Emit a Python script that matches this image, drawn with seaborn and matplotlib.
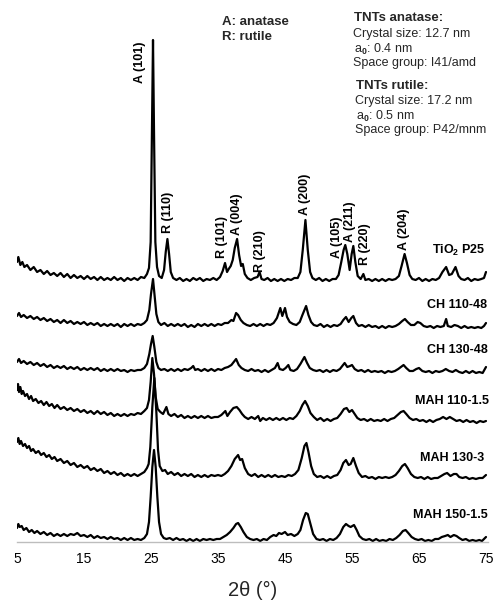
import numpy as np
import pandas as pd
import matplotlib
matplotlib.use("Agg")
import matplotlib.pyplot as plt
import seaborn as sns

# ---- data: (2theta, stacked intensity in arbitrary units) ----
P25 = [(5.0, 280), (5.2, 285), (5.5, 277), (5.8, 280), (6.1, 275), (6.5, 277), (7.0, 272), (7.5, 275),
       (8.0, 270), (8.5, 272), (9.0, 268), (9.5, 271), (10.0, 267), (10.5, 269), (11.0, 266), (11.5, 269),
       (12.0, 265), (12.5, 268), (13.0, 264), (13.5, 267), (14.0, 264), (14.5, 266), (15.0, 263), (15.5, 266),
       (16.0, 263), (16.5, 265), (17.0, 262), (17.5, 265), (18.0, 262), (18.5, 264), (19.0, 262), (19.5, 265),
       (20.0, 262), (20.5, 264), (21.0, 261), (21.5, 264), (22.0, 262), (22.5, 264), (23.0, 262), (23.5, 265),
       (24.0, 264), (24.4, 268), (24.7, 274), (24.95, 300), (25.15, 420), (25.3, 502), (25.45, 410),
       (25.65, 300), (25.9, 275), (26.2, 266), (26.6, 264), (26.95, 272), (27.2, 290), (27.45, 303),
       (27.7, 288), (27.95, 270), (28.3, 264), (28.8, 262), (29.3, 264), (29.8, 261), (30.3, 263), (30.8, 261),
       (31.3, 264), (31.8, 262), (32.3, 264), (32.8, 261), (33.3, 263), (33.8, 262), (34.3, 264), (34.8, 262),
       (35.3, 265), (35.7, 271), (36.05, 279), (36.35, 270), (36.6, 273), (36.9, 276), (37.2, 282), (37.5, 294),
       (37.85, 303), (38.15, 287), (38.45, 276), (38.7, 278), (39.0, 268), (39.4, 264), (39.9, 262), (40.4, 264),
       (40.9, 265), (41.2, 270), (41.5, 263), (41.9, 262), (42.4, 264), (42.9, 261), (43.4, 263), (43.9, 261),
       (44.4, 263), (44.9, 261), (45.4, 263), (45.9, 262), (46.4, 264), (46.9, 264), (47.3, 270), (47.65, 292),
       (48.05, 322), (48.4, 292), (48.75, 270), (49.1, 264), (49.6, 262), (50.1, 264), (50.6, 261), (51.1, 263),
       (51.6, 261), (52.1, 263), (52.6, 263), (53.0, 267), (53.4, 280), (53.75, 292), (54.0, 297), (54.3, 288),
       (54.65, 272), (54.95, 288), (55.2, 296), (55.5, 280), (55.85, 266), (56.3, 263), (56.7, 268), (57.0, 262),
       (57.5, 263), (58.0, 261), (58.5, 263), (59.0, 261), (59.5, 263), (60.0, 261), (60.5, 263), (61.0, 262),
       (61.5, 263), (62.0, 266), (62.4, 276), (62.85, 288), (63.2, 279), (63.6, 267), (64.0, 263), (64.5, 262),
       (65.0, 264), (65.5, 261), (66.0, 263), (66.5, 261), (67.0, 263), (67.5, 262), (68.0, 264), (68.5, 270),
       (69.05, 275), (69.5, 267), (69.9, 268), (70.45, 275), (70.9, 266), (71.3, 263), (71.8, 262), (72.3, 264),
       (72.8, 261), (73.3, 263), (73.8, 262), (74.3, 263), (74.7, 264), (75.0, 270)]

CH110 = [(5.0, 226), (5.3, 229), (5.6, 225), (6.0, 227), (6.5, 224), (7.0, 226), (7.5, 223), (8.0, 225),
         (8.5, 222), (9.0, 224), (9.5, 221), (10.0, 223), (10.5, 220), (11.0, 222), (11.5, 219), (12.0, 222),
         (12.5, 219), (13.0, 221), (13.5, 218), (14.0, 220), (14.5, 218), (15.0, 220), (15.5, 217), (16.0, 219),
         (16.5, 217), (17.0, 219), (17.5, 216), (18.0, 218), (18.5, 216), (19.0, 218), (19.5, 216), (20.0, 218),
         (20.5, 215), (21.0, 218), (21.5, 216), (22.0, 218), (22.5, 216), (23.0, 218), (23.5, 217), (24.0, 219),
         (24.4, 222), (24.75, 232), (25.0, 248), (25.3, 263), (25.55, 245), (25.8, 228), (26.1, 220), (26.5, 217),
         (27.0, 219), (27.5, 216), (28.0, 218), (28.5, 216), (29.0, 218), (29.5, 216), (30.0, 218), (30.5, 215),
         (31.0, 217), (31.5, 215), (32.0, 218), (32.5, 216), (33.0, 218), (33.5, 216), (34.0, 218), (34.5, 216),
         (35.0, 218), (35.5, 217), (36.0, 219), (36.5, 219), (37.0, 222), (37.3, 221), (37.7, 229), (38.0, 227),
         (38.4, 222), (38.8, 219), (39.3, 217), (39.8, 216), (40.3, 218), (40.8, 216), (41.3, 218), (41.8, 216),
         (42.3, 218), (42.8, 217), (43.3, 219), (43.8, 224), (44.3, 234), (44.6, 226), (45.0, 234), (45.3, 225),
         (45.7, 220), (46.2, 218), (46.7, 217), (47.2, 220), (47.6, 227), (48.15, 236), (48.5, 227), (48.9, 220),
         (49.3, 217), (49.8, 216), (50.3, 218), (50.8, 215), (51.3, 217), (51.8, 215), (52.3, 217), (52.8, 216),
         (53.3, 218), (53.7, 222), (54.1, 225), (54.5, 220), (54.9, 224), (55.2, 226), (55.6, 219), (56.0, 216),
         (56.5, 217), (57.0, 215), (57.5, 217), (58.0, 215), (58.5, 216), (59.0, 214), (59.5, 216), (60.0, 214),
         (60.5, 216), (61.0, 215), (61.5, 216), (62.0, 218), (62.5, 221), (62.9, 223), (63.3, 220), (63.8, 217),
         (64.3, 217), (64.8, 220), (65.2, 219), (65.7, 216), (66.2, 215), (66.7, 216), (67.2, 214), (67.7, 216),
         (68.2, 215), (68.7, 216), (69.05, 223), (69.3, 216), (69.8, 215), (70.3, 217), (70.8, 216), (71.3, 214),
         (71.8, 216), (72.3, 214), (72.8, 215), (73.3, 214), (73.8, 215), (74.3, 214), (74.7, 216), (75.0, 219)]

CH130 = [(5.0, 180), (5.3, 183), (5.6, 179), (6.0, 181), (6.5, 178), (7.0, 180), (7.5, 177), (8.0, 179),
         (8.5, 176), (9.0, 178), (9.5, 175), (10.0, 177), (10.5, 174), (11.0, 176), (11.5, 174), (12.0, 176),
         (12.5, 173), (13.0, 175), (13.5, 173), (14.0, 175), (14.5, 172), (15.0, 174), (15.5, 172), (16.0, 174),
         (16.5, 172), (17.0, 174), (17.5, 171), (18.0, 173), (18.5, 171), (19.0, 173), (19.5, 171), (20.0, 173),
         (20.5, 171), (21.0, 172), (21.5, 170), (22.0, 172), (22.5, 171), (23.0, 172), (23.5, 172), (24.0, 174),
         (24.4, 178), (24.75, 188), (25.0, 198), (25.25, 206), (25.5, 195), (25.8, 180), (26.1, 174), (26.5, 172),
         (27.0, 173), (27.5, 171), (28.0, 173), (28.5, 171), (29.0, 173), (29.5, 171), (30.0, 173), (30.5, 172),
         (31.0, 174), (31.3, 176), (31.6, 172), (32.0, 173), (32.5, 171), (33.0, 173), (33.5, 171), (34.0, 173),
         (34.5, 171), (35.0, 173), (35.5, 172), (36.0, 174), (36.5, 175), (37.0, 177), (37.7, 183), (38.1, 177),
         (38.5, 174), (39.0, 172), (39.5, 171), (40.0, 173), (40.5, 171), (41.0, 172), (41.5, 170), (42.0, 172),
         (42.5, 170), (43.0, 172), (43.5, 174), (43.9, 179), (44.2, 173), (44.7, 172), (45.1, 174), (45.5, 177),
         (45.8, 172), (46.3, 171), (46.8, 173), (47.3, 178), (47.9, 185), (48.3, 179), (48.7, 174), (49.2, 172),
         (49.7, 171), (50.2, 172), (50.7, 170), (51.2, 172), (51.7, 170), (52.2, 172), (52.7, 171), (53.2, 173),
         (53.9, 179), (54.3, 175), (54.7, 176), (55.0, 177), (55.4, 173), (55.9, 171), (56.4, 172), (56.9, 170),
         (57.4, 172), (57.9, 170), (58.4, 171), (58.9, 170), (59.4, 171), (59.9, 169), (60.4, 171), (60.9, 170),
         (61.4, 171), (61.9, 173), (62.3, 175), (62.7, 177), (63.1, 174), (63.6, 171), (64.1, 171), (64.6, 173),
         (65.0, 174), (65.5, 171), (66.0, 170), (66.5, 171), (67.0, 169), (67.5, 171), (68.0, 170), (68.5, 171),
         (69.0, 173), (69.5, 171), (70.0, 170), (70.5, 172), (71.0, 170), (71.5, 169), (72.0, 171), (72.5, 169),
         (73.0, 171), (73.5, 169), (74.0, 170), (74.5, 169), (75.0, 175)]

MAH110 = [(5.0, 152), (5.15, 158), (5.3, 150), (5.5, 155), (5.7, 148), (5.9, 151), (6.2, 146), (6.5, 148),
          (6.8, 143), (7.1, 146), (7.4, 141), (7.8, 143), (8.2, 139), (8.6, 141), (9.0, 137), (9.4, 140),
          (9.8, 136), (10.2, 138), (10.6, 134), (11.0, 137), (11.5, 133), (12.0, 135), (12.5, 132), (13.0, 134),
          (13.5, 131), (14.0, 133), (14.5, 130), (15.0, 132), (15.5, 129), (16.0, 131), (16.5, 128), (17.0, 131),
          (17.5, 128), (18.0, 130), (18.5, 127), (19.0, 129), (19.5, 126), (20.0, 128), (20.5, 126), (21.0, 128),
          (21.5, 126), (22.0, 128), (22.5, 127), (23.0, 129), (23.5, 128), (24.0, 131), (24.4, 134), (24.7, 142),
          (24.95, 160), (25.2, 184), (25.45, 168), (25.7, 145), (26.0, 133), (26.4, 130), (26.8, 128), (27.3, 135),
          (27.6, 128), (28.0, 126), (28.5, 128), (29.0, 125), (29.5, 127), (30.0, 124), (30.5, 126), (31.0, 124),
          (31.5, 126), (32.0, 124), (32.5, 126), (33.0, 124), (33.5, 126), (34.0, 124), (34.5, 125), (35.0, 125),
          (35.5, 127), (36.1, 131), (36.4, 126), (36.8, 130), (37.3, 134), (37.8, 135), (38.2, 132), (38.6, 128),
          (39.0, 125), (39.5, 123), (40.0, 125), (40.5, 123), (41.0, 126), (41.3, 121), (41.7, 124), (42.2, 122),
          (42.7, 124), (43.2, 122), (43.7, 124), (44.2, 122), (44.7, 124), (45.2, 122), (45.7, 124), (46.2, 123),
          (46.7, 126), (47.2, 131), (47.6, 137), (48.0, 141), (48.4, 136), (48.8, 129), (49.3, 125), (49.8, 122),
          (50.3, 124), (50.8, 121), (51.3, 123), (51.8, 121), (52.3, 123), (52.8, 124), (53.3, 128), (53.8, 133),
          (54.2, 134), (54.6, 130), (55.0, 132), (55.4, 128), (55.8, 124), (56.3, 122), (56.8, 123), (57.3, 121),
          (57.8, 123), (58.3, 121), (58.8, 122), (59.3, 121), (59.8, 123), (60.3, 121), (60.8, 123), (61.3, 124),
          (61.8, 127), (62.3, 130), (62.7, 131), (63.1, 128), (63.6, 124), (64.1, 122), (64.6, 123), (65.1, 121),
          (65.6, 122), (66.1, 120), (66.6, 122), (67.1, 120), (67.6, 122), (68.1, 123), (68.6, 125), (69.1, 123),
          (69.6, 125), (70.1, 123), (70.6, 121), (71.1, 122), (71.6, 120), (72.1, 122), (72.6, 120), (73.1, 121),
          (73.6, 119), (74.1, 121), (74.6, 120), (75.0, 121)]

MAH130 = [(5.0, 100), (5.2, 104), (5.4, 98), (5.6, 101), (5.9, 96), (6.2, 98), (6.5, 94), (6.8, 96),
          (7.1, 91), (7.4, 93), (7.8, 89), (8.2, 91), (8.6, 87), (9.0, 89), (9.4, 85), (9.8, 87), (10.2, 83),
          (10.6, 85), (11.0, 81), (11.5, 83), (12.0, 79), (12.5, 81), (13.0, 77), (13.5, 79), (14.0, 75),
          (14.5, 77), (15.0, 74), (15.5, 76), (16.0, 72), (16.5, 74), (17.0, 71), (17.5, 73), (18.0, 69),
          (18.5, 71), (19.0, 68), (19.5, 70), (20.0, 67), (20.5, 69), (21.0, 66), (21.5, 68), (22.0, 66),
          (22.5, 68), (23.0, 66), (23.5, 68), (24.0, 70), (24.4, 74), (24.65, 78), (24.9, 95), (25.2, 135),
          (25.5, 164), (25.8, 130), (26.05, 92), (26.3, 76), (26.7, 71), (27.1, 72), (27.5, 68), (28.0, 70),
          (28.5, 67), (29.0, 69), (29.5, 66), (30.0, 68), (30.5, 66), (31.0, 68), (31.5, 65), (32.0, 67),
          (32.5, 65), (33.0, 67), (33.5, 65), (34.0, 67), (34.5, 66), (35.0, 67), (35.5, 66), (36.0, 68),
          (36.5, 71), (37.0, 76), (37.5, 83), (38.0, 87), (38.3, 82), (38.6, 83), (39.0, 74), (39.5, 68),
          (40.0, 66), (40.5, 68), (41.0, 65), (41.5, 67), (42.0, 65), (42.5, 67), (43.0, 65), (43.5, 67),
          (44.0, 65), (44.5, 66), (45.0, 65), (45.5, 67), (46.0, 66), (46.5, 68), (47.0, 72), (47.5, 84),
          (47.9, 96), (48.2, 99), (48.5, 90), (48.9, 76), (49.3, 68), (49.8, 65), (50.3, 66), (50.8, 64),
          (51.3, 66), (51.8, 64), (52.3, 66), (52.8, 67), (53.3, 72), (53.7, 79), (54.1, 82), (54.5, 77),
          (54.8, 78), (55.2, 84), (55.6, 76), (56.0, 69), (56.5, 65), (57.0, 66), (57.5, 64), (58.0, 65),
          (58.5, 63), (59.0, 65), (59.5, 64), (60.0, 65), (60.5, 64), (61.0, 65), (61.5, 67), (62.0, 71),
          (62.5, 76), (62.9, 78), (63.3, 74), (63.8, 68), (64.3, 65), (64.8, 64), (65.3, 65), (65.8, 63),
          (66.3, 65), (66.8, 63), (67.3, 64), (67.8, 64), (68.3, 66), (68.8, 68), (69.2, 69), (69.7, 66),
          (70.2, 68), (70.6, 68), (71.0, 65), (71.5, 64), (72.0, 65), (72.5, 63), (73.0, 64), (73.5, 63),
          (74.0, 64), (74.5, 64), (75.0, 67)]

MAH150 = [(5.0, 14), (5.2, 18), (5.4, 15), (5.7, 16), (6.0, 12), (6.4, 14), (6.8, 10), (7.2, 12), (7.6, 9),
          (8.0, 11), (8.5, 8), (9.0, 10), (9.5, 7), (10.0, 9), (10.5, 6), (11.0, 8), (11.5, 6), (12.0, 8),
          (12.5, 6), (13.0, 8), (13.5, 7), (14.0, 9), (14.5, 6), (15.0, 7), (15.5, 5), (16.0, 7), (16.5, 4),
          (17.0, 6), (17.5, 4), (18.0, 5), (18.5, 3), (19.0, 5), (19.5, 3), (20.0, 4), (20.5, 2), (21.0, 4),
          (21.5, 2), (22.0, 4), (22.5, 2), (23.0, 3), (23.5, 2), (24.0, 4), (24.4, 8), (24.7, 20), (24.95, 45),
          (25.2, 75), (25.45, 92), (25.7, 75), (25.95, 45), (26.2, 20), (26.5, 8), (26.9, 4), (27.3, 3),
          (27.8, 4), (28.3, 2), (28.8, 4), (29.3, 2), (29.8, 3), (30.3, 1), (30.8, 3), (31.3, 1), (31.8, 3),
          (32.3, 1), (32.8, 3), (33.3, 2), (33.8, 3), (34.3, 2), (34.8, 3), (35.3, 3), (35.8, 5), (36.3, 7),
          (36.8, 10), (37.3, 14), (37.7, 18), (38.0, 19), (38.4, 15), (38.8, 10), (39.3, 5), (39.8, 3),
          (40.3, 2), (40.8, 3), (41.3, 1), (41.8, 3), (42.3, 2), (42.8, 5), (43.3, 7), (43.7, 6), (44.1, 9),
          (44.5, 8), (45.0, 10), (45.4, 7), (45.9, 8), (46.4, 6), (46.9, 8), (47.3, 12), (47.7, 22), (48.1, 29),
          (48.4, 28), (48.8, 18), (49.2, 8), (49.7, 3), (50.2, 2), (50.7, 3), (51.2, 1), (51.7, 3), (52.2, 2),
          (52.7, 4), (53.2, 8), (53.7, 15), (54.1, 18), (54.5, 16), (54.8, 15), (55.3, 17), (55.7, 12),
          (56.1, 6), (56.6, 3), (57.1, 2), (57.6, 3), (58.1, 1), (58.6, 3), (59.1, 1), (59.6, 2), (60.1, 1),
          (60.6, 3), (61.1, 2), (61.6, 4), (62.1, 7), (62.6, 11), (63.0, 12), (63.4, 9), (63.9, 5), (64.4, 3),
          (64.9, 2), (65.4, 3), (65.9, 1), (66.4, 2), (66.9, 1), (67.4, 3), (67.9, 3), (68.4, 5), (68.9, 6),
          (69.3, 7), (69.7, 5), (70.2, 7), (70.6, 6), (71.0, 4), (71.5, 2), (72.0, 3), (72.5, 1), (73.0, 2),
          (73.5, 1), (74.0, 2), (74.4, 1), (74.7, 3), (75.0, 5)]

series = {"P25": P25, "CH110": CH110, "CH130": CH130,
          "MAH110": MAH110, "MAH130": MAH130, "MAH150": MAH150}

series_labels = ["TiO$_\\mathbf{2}$ P25", "CH 110-48", "CH 130-48",
                 "MAH 110-1.5", "MAH 130-3", "MAH 150-1.5"]
series_label_pos = [(75.0, 292), (75.1, 237), (75.2, 192), (75.45, 141), (74.7, 84), (75.3, 27)]

peak_labels = ["A (101)", "R (110)", "R (101)", "A (004)", "R (210)",
               "A (200)", "A (105)", "A (211)", "R (220)", "A (204)"]
peak_label_pos = [(23.4, 459), (27.55, 309), (35.6, 284), (37.85, 307), (41.25, 270),
                  (48.0, 327), (52.8, 284), (54.75, 300), (56.9, 277), (62.8, 292)]

xticks = [5, 15, 25, 35, 45, 55, 65, 75]

# ---- build table ----
rows = []
for name, pts in series.items():
    for x, y in pts:
        rows.append((name, x, y))
df = pd.DataFrame(rows, columns=["sample", "two_theta", "intensity"])

sns.set_theme(style="white")
plt.rcParams["font.family"] = ["Liberation Sans", "DejaVu Sans"]
plt.rcParams["mathtext.fontset"] = "custom"
plt.rcParams["mathtext.rm"] = "Liberation Sans"
plt.rcParams["mathtext.bf"] = "Liberation Sans:bold"

fig = plt.figure(figsize=(4.94, 6.02), dpi=100)
ax = fig.add_axes([17 / 494, 1 - 542 / 602, (488 - 17) / 494, (542 - 30) / 602])

for name in series:
    sub = df[df["sample"] == name]
    sns.lineplot(data=sub, x="two_theta", y="intensity", ax=ax, color="black",
                 linewidth=1.6, sort=False, estimator=None)

ax.set_xlim(5, 75.3)
ax.set_ylim(0, 512)
ax.set_xticks(xticks)
ax.set_xticklabels([str(t) for t in xticks], fontsize=10)
ax.set_yticks([])
ax.tick_params(axis="x", length=0, pad=7, colors="black")
for s in ["top", "right", "left"]:
    ax.spines[s].set_visible(False)
ax.spines["bottom"].set_color("#bdbdbd")
ax.spines["bottom"].set_linewidth(1.0)
ax.set_ylabel("")
ax.set_xlabel("2θ (°)", fontsize=14.5, labelpad=11)

for lab, (x, y) in zip(peak_labels, peak_label_pos):
    ax.text(x, y, lab, rotation=90, ha="center", va="bottom", fontsize=9,
            fontweight="bold", color="black")

for lab, (x, y) in zip(series_labels, series_label_pos):
    ax.text(x, y, lab, ha="right", va="center", fontsize=9, fontweight="bold",
            color="black", clip_on=False)

# annotations in figure pixel positions
def ftext(xp, yp, s, **kw):
    fig.text(xp / 494, 1 - yp / 602, s, ha="left", va="center", **kw)

ftext(222, 22, "A: anatase", fontsize=9.5, fontweight="bold")
ftext(222, 37, "R: rutile", fontsize=9.5, fontweight="bold")

ftext(354, 18, "TNTs anatase:", fontsize=9.5, fontweight="bold")
ftext(353, 34, "Crystal size: 12.7 nm", fontsize=9)
ftext(354, 49, "a$_\\mathbf{0}$: 0.4 nm", fontsize=9)
ftext(353, 63, "Space group: I41/amd", fontsize=9)

ftext(356, 86, "TNTs rutile:", fontsize=9.5, fontweight="bold")
ftext(355, 101, "Crystal size: 17.2 nm", fontsize=9)
ftext(356, 116, "a$_\\mathbf{0}$: 0.5 nm", fontsize=9)
ftext(355, 130, "Space group: P42/mnm", fontsize=9)

fig.savefig("out.png", dpi=100)
